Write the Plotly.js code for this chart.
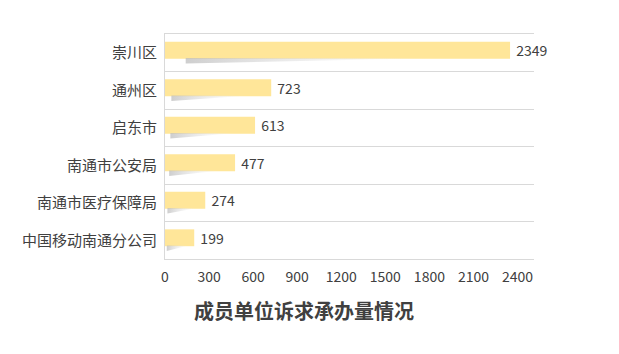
<!DOCTYPE html>
<html><head><meta charset="utf-8">
<script src="https://cdn.plot.ly/plotly-3.0.1.min.js"></script>
<style>html,body{margin:0;padding:0;background:#fff}#c{width:619px;height:354px}</style>
</head><body><div id="c"></div>
<script>
// data (bottom to top)
const categories = ["中国移动南通分公司","南通市医疗保障局","南通市公安局","启东市","通州区","崇川区"];
const values = [199, 274, 477, 613, 723, 2349];
const xTicks = [0,300,600,900,1200,1500,1800,2100,2400];
const titleText = "成员单位诉求承办量情况";

const FONT = '"Noto Sans CJK SC", "Noto Sans", sans-serif';
const idx = categories.map((_, i) => i);
const barWidth = 0.45, barShift = 0.066;

const traces = [];
// shadow wedges derived from values
values.forEach((v, i) => {
  const yb = i + barShift - barWidth / 2;
  traces.push({
    type: 'scatter', mode: 'lines', hoverinfo: 'skip', showlegend: false,
    x: [0.06 * v, 0.06 * v, 0.8 * v, 0.06 * v],
    y: [yb + 0.02, yb - 0.13, yb + 0.02, yb + 0.02],
    fill: 'toself', line: {width: 0, color: 'rgba(0,0,0,0)'},
    fillgradient: {type: 'horizontal', colorscale: [[0, 'rgba(185,185,185,0.7)'], [0.6, 'rgba(225,225,225,0.35)'], [1, 'rgba(240,240,240,0)']]}
  });
});
traces.push({
  type: 'bar', orientation: 'h', x: values, y: idx,
  width: barWidth, offset: barShift - barWidth / 2,
  marker: {color: '#FFE699', line: {width: 0}},
  text: values.map(v => '\u00a0' + v), textposition: 'outside', cliponaxis: false, constraintext: 'none',
  textfont: {family: FONT, size: 14, color: '#404040'},
  showlegend: false, hoverinfo: 'skip'
});

const layout = {
  width: 619, height: 354,
  margin: {l: 165, r: 85, t: 34, b: 95},
  paper_bgcolor: '#fff', plot_bgcolor: '#fff',
  font: {family: FONT, size: 14, color: '#404040'},
  title: {text: '<b>' + titleText + '</b>', x: 0.491, xanchor: 'center', y: 0.12, yanchor: 'middle', yref: 'container',
          font: {family: FONT, size: 20, color: '#404040'}},
  xaxis: {range: [0, 2512], tickvals: xTicks, ticktext: xTicks.map(String), showgrid: false, zeroline: false,
          showline: true, mirror: true, linecolor: '#d9d9d9', linewidth: 1, ticks: '',
          tickfont: {family: FONT, size: 14, color: '#404040'}, ticklabelstandoff: 5, fixedrange: true},
  yaxis: {range: [-0.5, 5.5], tickvals: idx, ticktext: categories, showgrid: false, zeroline: false,
          showline: true, linecolor: '#d9d9d9', linewidth: 1, ticks: '',
          minor: {tickvals: [-0.5, 0.5, 1.5, 2.5, 3.5, 4.5, 5.5], showgrid: true, gridcolor: '#d9d9d9', gridwidth: 1, ticks: ''},
          tickfont: {family: FONT, size: 15, color: '#404040'}, ticklabelstandoff: 4, fixedrange: true},
  bargap: 0.5, showlegend: false
};
Plotly.newPlot('c', traces, layout, {displayModeBar: false, staticPlot: true});
</script></body></html>
